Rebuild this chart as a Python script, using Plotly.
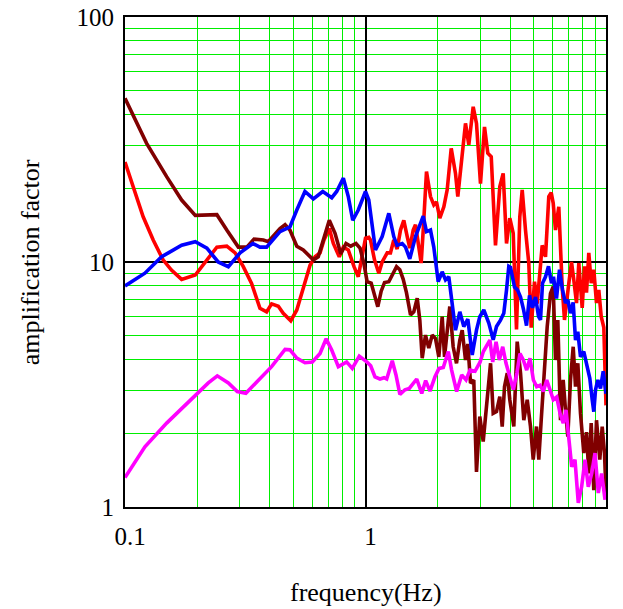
import plotly.graph_objects as go

# ---- site response spectra (frequency in Hz, amplification factor) ----
red_f = [0.100, 0.108, 0.119, 0.131, 0.144, 0.156, 0.172, 0.196, 0.219, 0.241,
         0.265, 0.287, 0.310, 0.336, 0.364, 0.388, 0.407, 0.434, 0.455, 0.489,
         0.518, 0.551, 0.588, 0.617, 0.647, 0.672, 0.707, 0.735, 0.778, 0.809,
         0.848, 0.896, 0.933, 1.000, 1.032, 1.049, 1.090, 1.136, 1.173, 1.231,
         1.270, 1.311, 1.354, 1.398, 1.443, 1.491, 1.528, 1.579, 1.614, 1.666,
         1.704, 1.738, 1.793, 1.863, 1.923, 1.973, 2.037, 2.117, 2.186, 2.272,
         2.367, 2.420, 2.524, 2.605, 2.689, 2.804, 2.894, 3.007, 3.125, 3.225,
         3.333, 3.471, 3.618, 3.737, 3.858, 3.981, 4.113, 4.245, 4.381, 4.483,
         4.627, 4.775, 4.887, 5.044, 5.175, 5.306, 5.429, 5.603, 5.783, 5.917,
         6.032, 6.166, 6.364, 6.575, 6.721, 6.985, 7.188, 7.347, 7.540, 7.708,
         7.962, 8.140, 8.297, 8.481, 8.679, 8.898, 9.131, 9.333, 9.550, 9.793,
         10.00]
red_a = [25.6, 20.3, 15.3, 12.3, 10.2, 9.27, 8.49, 8.85, 10.2, 11.5,
         11.6, 10.9, 9.6, 8.18, 6.47, 6.26, 6.75, 6.6, 6.18, 5.76,
         6.37, 7.81, 9.7, 10.5, 10.9, 12.3, 13.7, 11.9, 10.5, 11.5,
         11.2, 9.57, 8.71, 12.5, 12.6, 12.3, 10.2, 9.0, 10.0, 10.9,
         10.9, 12.3, 11.3, 13.5, 14.8, 12.7, 11.4, 13.5, 14.2, 11.5,
         9.9, 13.5, 23.4, 18.5, 17.1, 17.6, 15.1, 16.8, 19.7, 29.1,
         23.0, 18.5, 28.6, 36.8, 30.1, 43.0, 36.8, 20.9, 35.6, 27.8,
         26.9, 11.7, 20.3, 23.0, 11.9, 15.1, 13.1, 5.3, 15.3, 19.7,
         13.5, 9.9, 5.4, 8.31, 6.77, 9.57, 11.7, 10.5, 18.5, 19.2,
         17.4, 13.5, 16.8, 7.9, 5.8, 8.0, 10.0, 8.45, 6.8, 9.9,
         6.5, 9.6, 7.5, 10.9, 8.2, 9.3, 6.8, 7.7, 6.0, 5.4,
         2.6]

maroon_f = [0.100, 0.123, 0.149, 0.172, 0.196, 0.241, 0.265, 0.296, 0.321, 0.344,
            0.376, 0.394, 0.441, 0.463, 0.485, 0.518, 0.551, 0.607, 0.636, 0.668,
            0.707, 0.747, 0.789, 0.830, 0.868, 0.913, 0.949, 0.984, 1.016, 1.056,
            1.090, 1.125, 1.162, 1.200, 1.250, 1.291, 1.346, 1.389, 1.435, 1.480,
            1.539, 1.588, 1.641, 1.682, 1.721, 1.776, 1.833, 1.894, 1.955, 2.018,
            2.084, 2.131, 2.186, 2.241, 2.315, 2.390, 2.467, 2.524, 2.605, 2.664,
            2.733, 2.820, 2.894, 2.987, 3.086, 3.206, 3.311, 3.396, 3.505, 3.618,
            3.702, 3.784, 3.884, 3.981, 4.137, 4.273, 4.412, 4.552, 4.704, 4.853,
            4.982, 5.140, 5.255, 5.378, 5.550, 5.695, 5.877, 6.032, 6.166, 6.304,
            6.469, 6.637, 6.786, 6.938, 7.118, 7.304, 7.468, 7.635, 7.834, 8.085,
            8.297, 8.481, 8.679, 8.898, 9.131, 9.424, 9.643, 9.857, 10.00]
maroon_a = [46.6, 30.5, 22.3, 17.9, 15.5, 15.6, 13.5, 11.5, 11.5, 12.4,
            12.3, 12.1, 13.7, 14.2, 13.5, 11.6, 11.2, 10.2, 10.5, 12.3,
            14.8, 13.1, 10.8, 11.9, 11.6, 11.9, 11.4, 9.9, 8.3, 8.2,
            7.44, 6.57, 7.6, 8.25, 8.31, 8.85, 9.57, 9.3, 8.5, 7.5,
            6.08, 6.26, 7.11, 5.79, 4.05, 5.03, 4.45, 5.03, 4.87, 4.10,
            5.98, 4.10, 5.45, 6.58, 4.51, 3.86, 4.8, 5.27, 3.98, 4.63,
            3.20, 3.30, 1.39, 2.34, 1.85, 2.74, 3.86, 2.41, 2.45, 2.82,
            2.13, 3.10, 3.52, 2.74, 2.13, 4.73, 3.52, 2.26, 2.74, 2.13,
            1.56, 2.13, 1.56, 2.26, 3.74, 5.45, 7.44, 7.93, 3.98, 5.79,
            2.26, 3.30, 2.49, 1.94, 3.30, 4.51, 3.10, 3.86, 2.41, 1.66,
            2.02, 1.37, 2.20, 1.17, 2.26, 1.56, 2.13, 1.66, 1.14]

blue_f = [0.100, 0.121, 0.142, 0.172, 0.196, 0.219, 0.244, 0.269, 0.301, 0.340,
          0.364, 0.388, 0.441, 0.485, 0.518, 0.560, 0.607, 0.664, 0.724, 0.759,
          0.809, 0.848, 0.885, 0.933, 1.000, 1.032, 1.100, 1.173, 1.250, 1.311,
          1.354, 1.421, 1.467, 1.528, 1.614, 1.666, 1.738, 1.793, 1.863, 1.923,
          2.006, 2.084, 2.151, 2.220, 2.300, 2.367, 2.467, 2.563, 2.664, 2.778,
          2.894, 2.987, 3.104, 3.256, 3.396, 3.505, 3.642, 3.759, 3.858, 3.943,
          4.008, 4.086, 4.165, 4.285, 4.412, 4.539, 4.672, 4.808, 4.948, 5.092,
          5.240, 5.342, 5.445, 5.603, 5.766, 5.934, 6.049, 6.225, 6.407, 6.594,
          6.786, 6.938, 7.118, 7.304, 7.468, 7.635, 7.834, 8.085, 8.352, 8.564,
          8.763, 8.898, 9.045, 9.245, 9.486, 9.737, 10.00]
blue_a = [7.98, 9.0, 10.5, 11.7, 12.1, 11.4, 10.0, 9.57, 10.9, 11.9,
          11.5, 11.5, 13.3, 13.9, 16.3, 19.4, 18.1, 19.4, 18.3, 19.4,
          22.0, 18.5, 14.8, 16.3, 19.4, 17.9, 11.2, 12.7, 15.8, 12.7,
          11.7, 11.9, 11.5, 10.3, 12.7, 13.9, 15.4, 13.3, 13.5, 11.5,
          8.31, 9.12, 8.45, 8.71, 6.5, 5.27, 6.26, 5.45, 5.84, 4.17,
          5.27, 5.98, 6.37, 5.63, 4.81, 5.45, 5.79, 6.18, 7.69, 9.6,
          9.5, 8.5, 7.9, 7.7, 7.2, 6.4, 5.5, 7.3, 6.5, 7.2,
          6.0, 5.8, 8.2, 8.7, 9.6, 8.2, 8.7, 7.1, 9.3, 7.7,
          6.8, 7.0, 6.18, 6.84, 4.80, 5.19, 4.10, 4.31, 3.80, 3.35,
          2.74, 2.45, 3.01, 3.30, 3.05, 3.58, 2.9]

magenta_f = [0.100, 0.121, 0.149, 0.199, 0.222, 0.242, 0.269, 0.293, 0.318, 0.353,
             0.407, 0.463, 0.485, 0.518, 0.560, 0.601, 0.647, 0.686, 0.723, 0.771,
             0.835, 0.881, 0.942, 1.012, 1.051, 1.095, 1.149, 1.194, 1.225, 1.292,
             1.339, 1.390, 1.459, 1.521, 1.633, 1.713, 1.779, 1.854, 1.945, 2.021,
             2.106, 2.209, 2.281, 2.393, 2.512, 2.618, 2.720, 2.853, 2.994, 3.09,
             3.19, 3.29, 3.38, 3.49, 3.60, 3.72, 3.84, 3.99, 4.12, 4.26,
             4.39, 4.53, 4.68, 4.83, 4.99, 5.15, 5.32, 5.49, 5.67, 5.85,
             6.04, 6.24, 6.44, 6.64, 6.82, 6.97, 7.20, 7.43, 7.67, 7.92,
             8.18, 8.44, 8.72, 9.00, 9.29, 9.59, 9.91]
magenta_a = [1.32, 1.76, 2.20, 2.91, 3.21, 3.43, 3.21, 2.96, 2.91, 3.24,
             3.74, 4.40, 4.38, 4.05, 3.88, 3.91, 4.23, 4.86, 4.38, 3.74,
             3.91, 3.68, 4.13, 3.91, 3.77, 3.40, 3.33, 3.37, 3.33, 3.95,
             3.46, 2.88, 3.01, 3.05, 3.33, 2.91, 3.28, 2.97, 3.40, 3.68,
             3.71, 4.31, 3.62, 2.96, 3.46, 3.30, 3.62, 3.58, 3.90, 4.31,
             4.58, 4.80, 3.91, 4.72, 3.98, 4.51, 3.86, 3.35, 3.01, 3.52,
             4.23, 3.98, 3.62, 4.05, 3.30, 3.10, 3.14, 2.96, 3.30, 3.01,
             2.74, 2.81, 2.41, 2.20, 2.49, 2.00, 1.46, 1.56, 1.04, 1.21,
             1.56, 1.21, 1.37, 1.66, 1.14, 1.37, 1.07]

x_ticks = [0.1, 1, 10]
x_labels = ["0.1", "1", "10"]
y_ticks = [1, 10, 100]
y_labels = ["1", "10", "100"]

series = [
    (red_f, red_a, "#ff0000"),
    (maroon_f, maroon_a, "#800000"),
    (blue_f, blue_a, "#0000ff"),
    (magenta_f, magenta_a, "#ff00ff"),
]

fig = go.Figure()
for f, a, color in series:
    assert len(f) == len(a)
    fig.add_trace(go.Scatter(x=f, y=a, mode="lines",
                             line=dict(color=color, width=3.6),
                             showlegend=False, hoverinfo="skip"))

serif = "Liberation Serif, Times New Roman, serif"
axis_style = dict(
    type="log", automargin=False,
    showline=True, mirror=True, linecolor="black", linewidth=2,
    showgrid=True, gridcolor="black", gridwidth=1.6,
    ticks="", zeroline=False,
    tickfont=dict(family=serif, size=25, color="black"),
    minor=dict(dtick="D1", showgrid=True, gridcolor="#00ee00", gridwidth=1.4, ticks=""),
)

fig.update_xaxes(range=[-1, 1], tickmode="array", tickvals=x_ticks, ticktext=x_labels,
                 ticklabelshift=5, ticklabelstandoff=6, **axis_style)
fig.update_yaxes(range=[0, 2], tickmode="array", tickvals=y_ticks, ticktext=y_labels,
                 ticklabelstandoff=4, **axis_style)

fig.add_annotation(text="frequency(Hz)", xref="paper", yref="paper",
                   x=0.5, y=-0.175, xanchor="center", yanchor="middle",
                   showarrow=False, font=dict(family=serif, size=26, color="black"))
fig.add_annotation(text="amplification factor", xref="paper", yref="paper",
                   x=-0.197, y=0.5, xanchor="center", yanchor="middle", textangle=-90,
                   showarrow=False, font=dict(family=serif, size=26, color="black"))

fig.update_layout(
    width=623, height=609,
    margin=dict(l=125, r=17, t=17, b=102),
    paper_bgcolor="white", plot_bgcolor="white",
)

fig.write_html("out.html")
